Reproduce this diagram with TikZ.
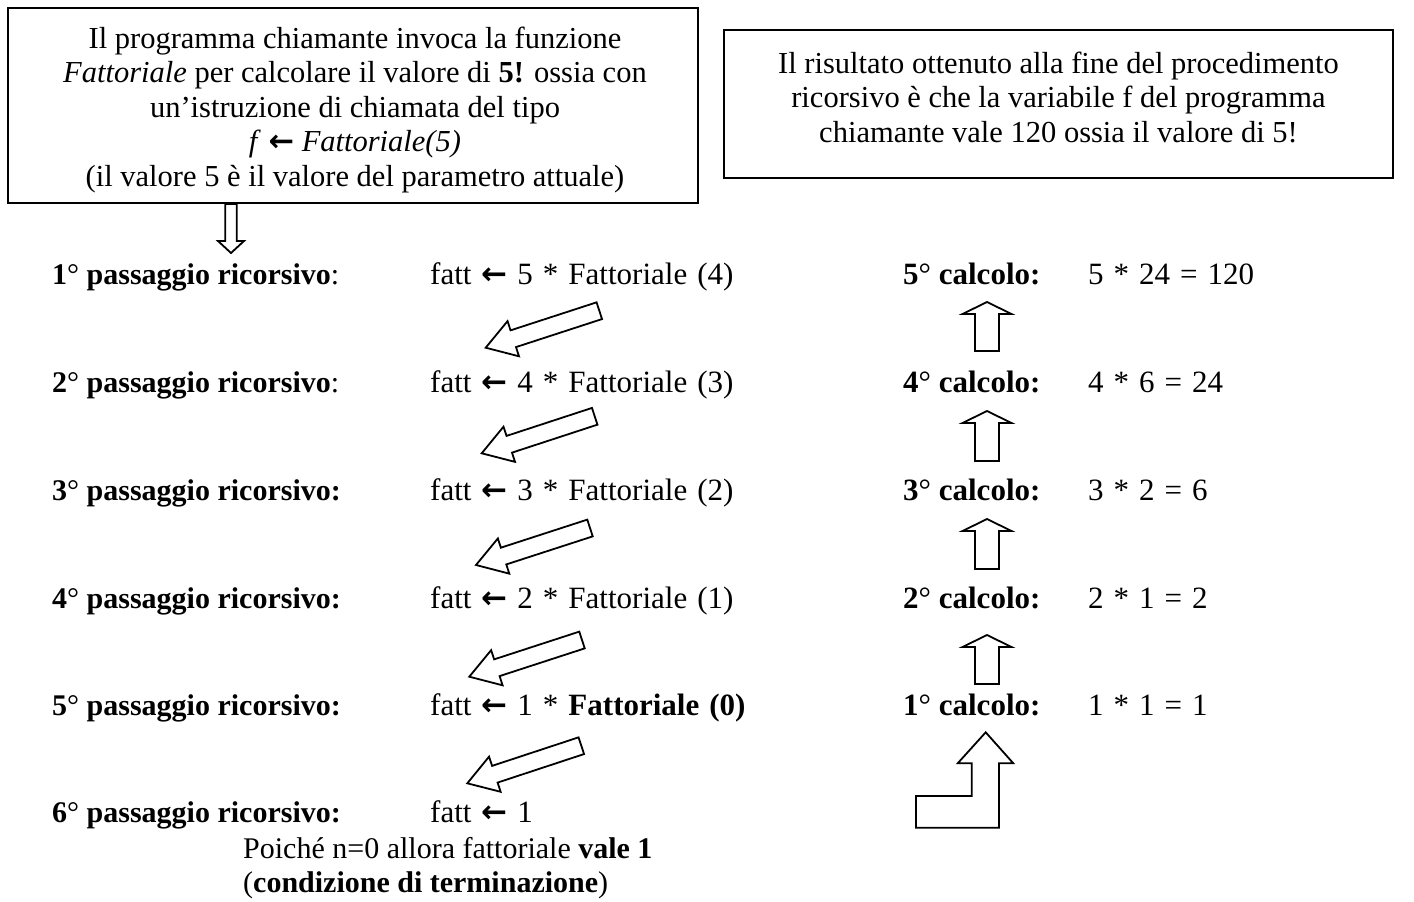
\documentclass[tikz,border=0pt]{standalone}
\usepackage{fontspec}
\setmainfont{Liberation Serif}
\newfontfamily\arrfont{DejaVu Sans}
\usetikzlibrary{calc}
\newcommand\lar{{\arrfont\bfseries ←}}
\newcommand\widesp{\spaceskip 10pt\relax}
\tikzset{
  txt/.style={anchor=base west, inner sep=0pt, font=\fontsize{30}{34.5}\selectfont},
  wide/.style={anchor=base west, inner sep=0pt, font=\fontsize{31}{34.5}\selectfont\widesp},
  box/.style={draw, line width=2pt, inner sep=0pt},
  boxtext/.style={align=center, inner sep=0pt, font=\fontsize{30.5}{34.5}\selectfont},
  barr/.style={draw, line width=1.8pt, fill=white, line join=miter},
}
% tail, tip, shaft half width, head half width, head length
\newcommand\blockarrow[5]{%
  \path ($(#2)!#5!(#1)$) coordinate (hb);
  \draw[barr] ($(#1)!#3!90:(#2)$) -- ($(hb)!#3!-90:(#1)$) -- ($(hb)!#4!-90:(#1)$) -- (#2)
    -- ($(hb)!#4!90:(#1)$) -- ($(hb)!#3!90:(#1)$) -- ($(#1)!#3!-90:(#2)$) -- cycle;
}
\begin{document}
\begin{tikzpicture}[x=1pt,y=-1pt]
\useasboundingbox (0,0) rectangle (1414,902);
\fill[white] (0,0) rectangle (1414,902);

% down arrow from the caller box
\coordinate (dt) at (231,204);
\coordinate (dh) at (231,253);
\blockarrow{dt}{dh}{5.8pt}{13pt}{12pt}

\node[box, minimum width=690, minimum height=195] (call) at (353,105.5) {};
\node[boxtext] (calltext) at (355,110)
 {Il programma chiamante invoca la funzione\\
  \textit{Fattoriale} per calcolare il valore di \textbf{5!} ossia con\\
  un’istruzione di chiamata del tipo\\
  \textit{f} \lar{} \textit{Fattoriale(5)}\\
  (il valore 5 è il valore del parametro attuale)};

\node[box, minimum width=669, minimum height=148] (res) at (1058.5,104) {};
\node[boxtext] (restext) at (1058.5,97)
 {Il risultato ottenuto alla fine del procedimento\\
  ricorsivo è che la variabile f del programma\\
  chiamante vale 120 ossia il valore di 5!};

% recursive steps
\node[txt] (p1) at (52,284) {\textbf{1}° \textbf{passaggio ricorsivo}:};
\node[txt] (p2) at (52,392) {\textbf{2}° \textbf{passaggio ricorsivo}:};
\node[txt] (p3) at (52,500) {\textbf{3}° \textbf{passaggio ricorsivo:}};
\node[txt] (p4) at (52,608) {\textbf{4}° \textbf{passaggio ricorsivo:}};
\node[txt] (p5) at (52,715) {\textbf{5}° \textbf{passaggio ricorsivo:}};
\node[txt] (p6) at (52,822) {\textbf{6}° \textbf{passaggio ricorsivo:}};

\node[wide] (f1) at (430,284) {fatt \lar{} 5 * Fattoriale (4)};
\node[wide] (f2) at (430,392) {fatt \lar{} 4 * Fattoriale (3)};
\node[wide] (f3) at (430,500) {fatt \lar{} 3 * Fattoriale (2)};
\node[wide] (f4) at (430,608) {fatt \lar{} 2 * Fattoriale (1)};
\node[wide] (f5) at (430,715) {fatt \lar{} 1 * \textbf{Fattoriale (0)}};
\node[wide] (f6) at (430,822) {fatt \lar{} 1};

\node[txt] (n1) at (243,858) {Poiché n=0 allora fattoriale \textbf{vale 1}};
\node[txt] (n2) at (243,892) {(\textbf{condizione di terminazione})};

% calculations
\node[txt, font=\fontsize{31}{34.5}\selectfont] (c5) at (903,284) {\textbf{5}° \textbf{calcolo:}};
\node[txt, font=\fontsize{31}{34.5}\selectfont] (c4) at (903,392) {\textbf{4}° \textbf{calcolo:}};
\node[txt, font=\fontsize{31}{34.5}\selectfont] (c3) at (903,500) {\textbf{3}° \textbf{calcolo:}};
\node[txt, font=\fontsize{31}{34.5}\selectfont] (c2) at (903,608) {\textbf{2}° \textbf{calcolo:}};
\node[txt, font=\fontsize{31}{34.5}\selectfont] (c1) at (903,715) {\textbf{1}° \textbf{calcolo:}};

\node[wide] (v5) at (1088,284) {5 * 24 = 120};
\node[wide] (v4) at (1088,392) {4 * 6 = 24};
\node[wide] (v3) at (1088,500) {3 * 2 = 6};
\node[wide] (v2) at (1088,608) {2 * 1 = 2};
\node[wide] (v1) at (1088,715) {1 * 1 = 1};

% diagonal arrows (recursive calls)
\coordinate (a1t) at (599.3,310.7); \coordinate (a1h) at (485.7,347.7);
\coordinate (a2t) at (594.7,416.3); \coordinate (a2h) at (481.7,453.3);
\coordinate (a3t) at (590,528);     \coordinate (a3h) at (476,565);
\coordinate (a4t) at (582,640);     \coordinate (a4h) at (469.3,676.7);
\coordinate (a5t) at (581.3,745.7); \coordinate (a5h) at (467.3,783.3);
\blockarrow{a1t}{a1h}{8.8pt}{18.5pt}{29pt}
\blockarrow{a2t}{a2h}{8.8pt}{18.5pt}{29pt}
\blockarrow{a3t}{a3h}{8.8pt}{18.5pt}{29pt}
\blockarrow{a4t}{a4h}{8.8pt}{18.5pt}{29pt}
\blockarrow{a5t}{a5h}{8.8pt}{18.5pt}{29pt}

% up arrows (returns)
\coordinate (u1t) at (987,684); \coordinate (u1h) at (987,635);
\coordinate (u2t) at (987,569); \coordinate (u2h) at (987,519);
\coordinate (u3t) at (987,461); \coordinate (u3h) at (987,411);
\coordinate (u4t) at (987,351); \coordinate (u4h) at (987,302);
\blockarrow{u1t}{u1h}{12pt}{24.5pt}{12pt}
\blockarrow{u2t}{u2h}{12pt}{24.5pt}{12pt}
\blockarrow{u3t}{u3h}{12pt}{24.5pt}{12pt}
\blockarrow{u4t}{u4h}{12pt}{24.5pt}{12pt}

% L-shaped arrow
\draw[barr] (916,796) -- (971.7,796) -- (971.7,763.3) -- (957.7,763.3) -- (985.7,732.3)
  -- (1013.3,763.3) -- (999,763.3) -- (999,827.7) -- (916,827.7) -- cycle;
\end{tikzpicture}
\end{document}
